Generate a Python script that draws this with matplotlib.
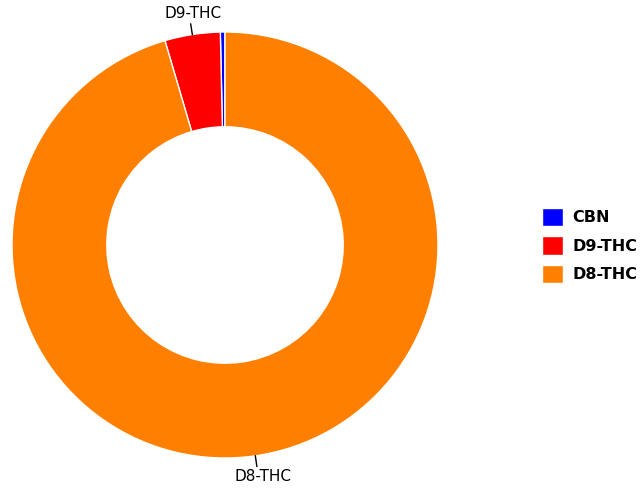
import matplotlib
matplotlib.use("Agg")
import matplotlib.pyplot as plt
import numpy as np

labels = ["CBN", "D9-THC", "D8-THC"]
values = [0.35, 4.2, 95.45]
colors = ["#0000ff", "#ff0000", "#ff8000"]
shown_labels = ["D9-THC", "D8-THC"]

fig = plt.figure(figsize=(6.41, 4.88), dpi=100)
# radius 1 -> ~213 px, centre at (225, 245) px from top-left
ax = fig.add_axes([-9.3 / 641, 8.7 / 488, 468.6 / 641, 468.6 / 488])
wedges, _ = ax.pie(values, colors=colors, startangle=90, counterclock=True,
                   radius=1.0, wedgeprops=dict(width=0.445, edgecolor="white", linewidth=1))
ax.set_xlim(-1.1, 1.1)
ax.set_ylim(-1.1, 1.1)
ax.set_aspect("equal")
ax.axis("off")

# leader lines and labels
for w, lab in zip(wedges, labels):
    if lab not in shown_labels:
        continue
    ang = np.deg2rad((w.theta1 + w.theta2) / 2)
    x, y = np.cos(ang), np.sin(ang)
    ax.plot([x * 1.0, x * 1.05], [y * 1.0, y * 1.05], color="black", lw=1, clip_on=False)
    ax.text(x * 1.1 + 0.02, y * 1.1, lab, ha="center", va="center", fontsize=11, clip_on=False)

fig.legend(wedges, labels, loc="center left", bbox_to_anchor=(0.828, 0.497),
           frameon=False, prop=dict(weight="bold", size=11.5), handlelength=1.3,
           handleheight=1.4, labelspacing=0.62, handletextpad=0.6, borderpad=0.2)

fig.savefig("out.png", dpi=100)
